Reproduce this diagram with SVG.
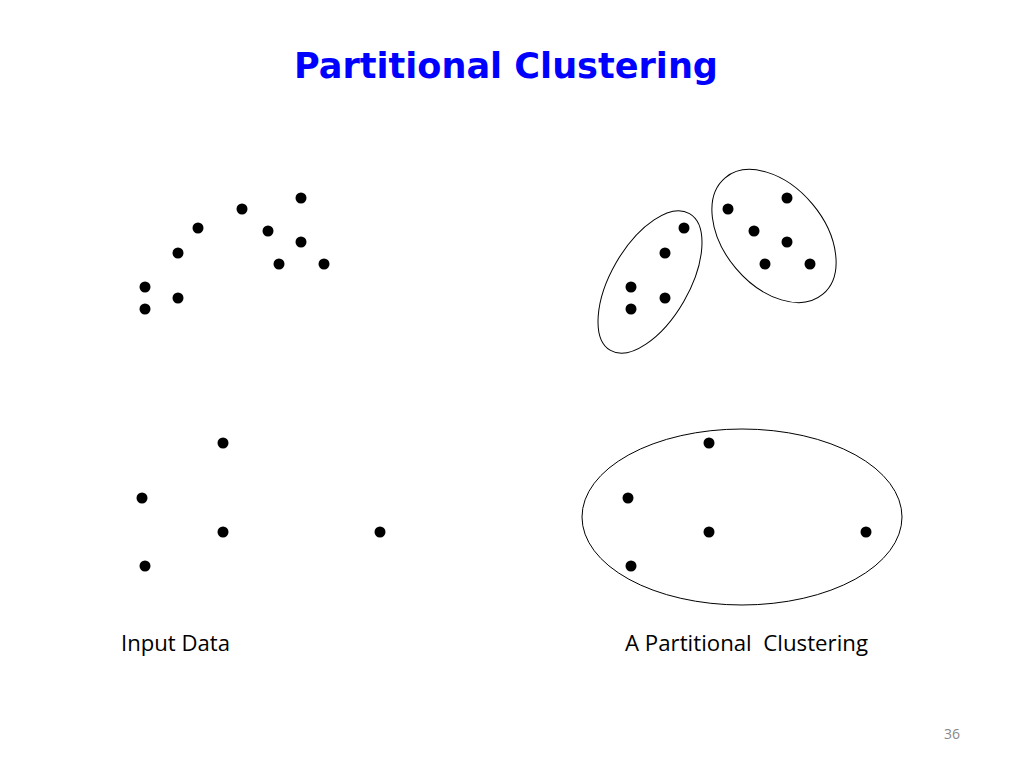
<svg xmlns="http://www.w3.org/2000/svg" width="1024" height="768" viewBox="0 0 1024 768">
<style>
.d{fill:#000}
.e{fill:none;stroke:#000;stroke-width:1}
.l{font-family:"Open Sans","Liberation Sans",sans-serif;font-size:21px;fill:#000}
</style>
<rect width="1024" height="768" fill="#fff"/>
<text x="506" y="78" text-anchor="middle" font-family="'DejaVu Sans',sans-serif" font-weight="bold" font-size="35" fill="#0000ff" textLength="424" lengthAdjust="spacingAndGlyphs">Partitional Clustering</text>
<g id="input">
<circle class="d" cx="301" cy="198" r="5.5"/><circle class="d" cx="242" cy="209" r="5.5"/><circle class="d" cx="198" cy="228" r="5.5"/><circle class="d" cx="268" cy="231" r="5.5"/><circle class="d" cx="301" cy="242" r="5.5"/><circle class="d" cx="178" cy="253" r="5.5"/><circle class="d" cx="279" cy="264" r="5.5"/><circle class="d" cx="324" cy="264" r="5.5"/><circle class="d" cx="145" cy="287" r="5.5"/><circle class="d" cx="178" cy="298" r="5.5"/><circle class="d" cx="145" cy="309" r="5.5"/>
<circle class="d" cx="223" cy="443" r="5.5"/><circle class="d" cx="142" cy="498" r="5.5"/><circle class="d" cx="223" cy="532" r="5.5"/><circle class="d" cx="380" cy="532" r="5.5"/><circle class="d" cx="145" cy="566" r="5.5"/>
</g>
<g id="clustered">
<circle class="d" cx="787" cy="198" r="5.5"/><circle class="d" cx="728" cy="209" r="5.5"/><circle class="d" cx="684" cy="228" r="5.5"/><circle class="d" cx="754" cy="231" r="5.5"/><circle class="d" cx="787" cy="242" r="5.5"/><circle class="d" cx="665" cy="253" r="5.5"/><circle class="d" cx="765" cy="264" r="5.5"/><circle class="d" cx="810" cy="264" r="5.5"/><circle class="d" cx="631" cy="287" r="5.5"/><circle class="d" cx="665" cy="298" r="5.5"/><circle class="d" cx="631" cy="309" r="5.5"/>
<circle class="d" cx="709" cy="443" r="5.5"/><circle class="d" cx="628" cy="498" r="5.5"/><circle class="d" cx="709" cy="532" r="5.5"/><circle class="d" cx="866" cy="532" r="5.5"/><circle class="d" cx="631" cy="566" r="5.5"/>
<ellipse class="e" cx="650" cy="282" rx="79" ry="39" transform="rotate(-60 650 282)"/>
<ellipse class="e" cx="774" cy="236" rx="76" ry="50" transform="rotate(50 774 236)"/>
<ellipse class="e" cx="742" cy="517" rx="160" ry="88"/>
</g>
<text class="l" x="121" y="651" textLength="109" lengthAdjust="spacingAndGlyphs">Input Data</text>
<text class="l" x="625" y="651" xml:space="preserve" textLength="243" lengthAdjust="spacingAndGlyphs">A Partitional  Clustering</text>
<text x="944" y="739" font-family="'Open Sans',sans-serif" font-size="14" fill="#888">36</text>
</svg>
